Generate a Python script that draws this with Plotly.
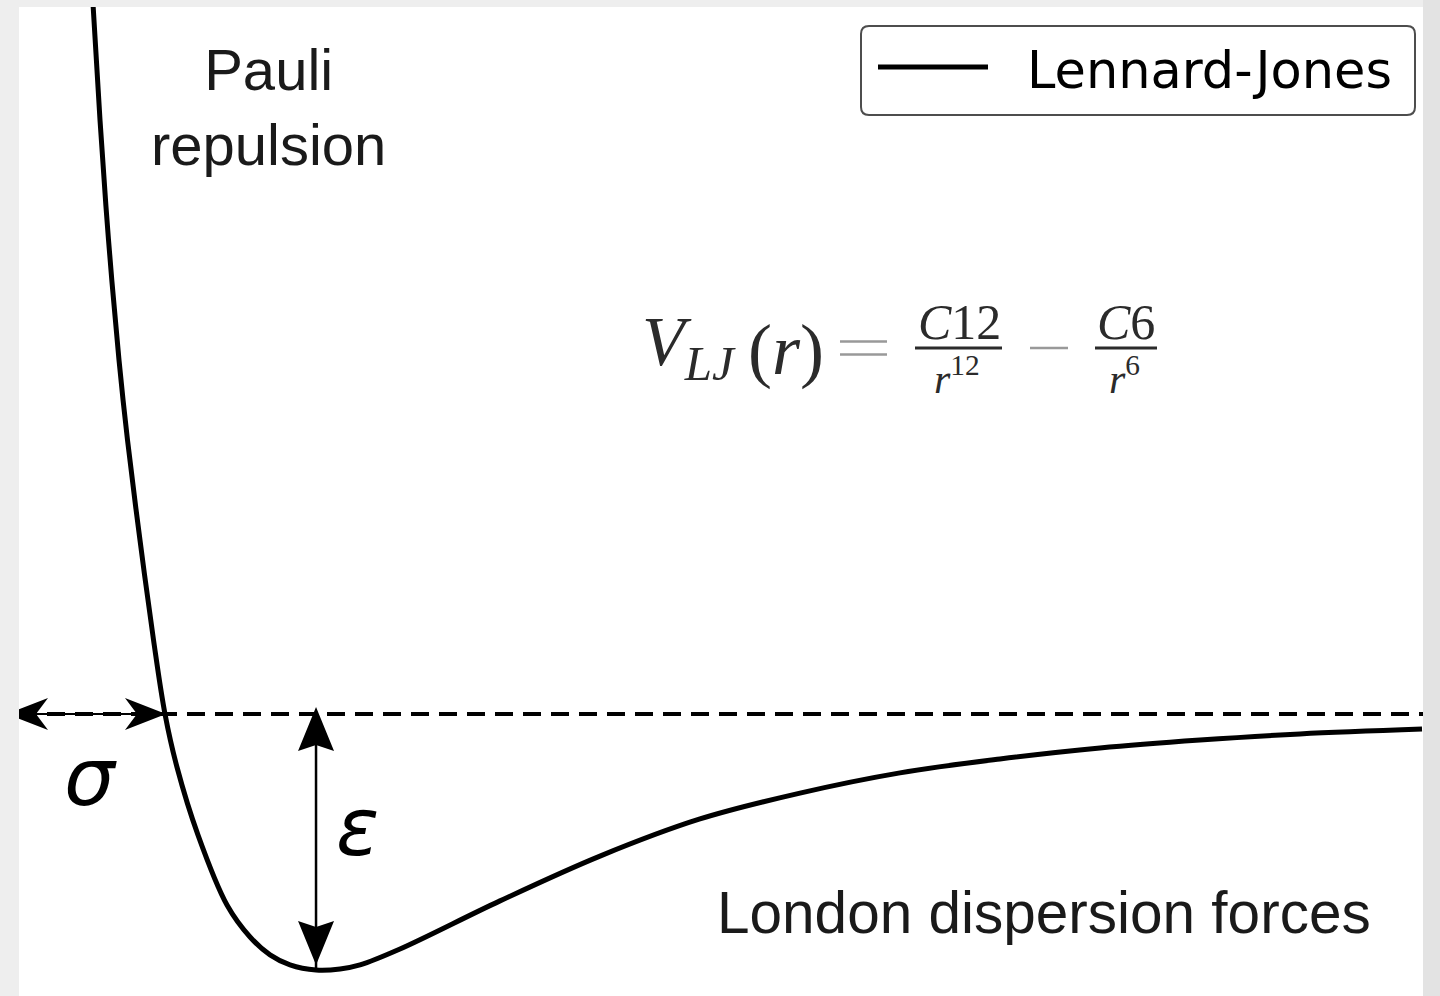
import plotly.graph_objects as go

# Lennard-Jones potential, reduced units: r / sigma on x, V / epsilon on y
r_over_sigma = [0.9416, 0.9473, 0.9542, 0.9627, 0.9696, 0.9797, 0.9907, 1.0000,
                1.0097, 1.0268, 1.0503, 1.0690, 1.0852, 1.1014, 1.1225, 1.1420,
                1.1582, 1.1906, 1.2717, 1.3528, 1.4339, 1.5150, 1.5961, 1.6772,
                1.7583, 1.8394, 1.9205, 2.0195]
v_over_eps = [2.775, 2.320, 1.852, 1.383, 1.070, 0.680, 0.289, 0.000,
              -0.207, -0.473, -0.746, -0.871, -0.941, -0.980, -1.000, -0.996,
              -0.980, -0.918, -0.730, -0.555, -0.410, -0.309, -0.230, -0.176,
              -0.133, -0.102, -0.078, -0.059]

series_name = "Lennard-Jones"
region_labels = ["Pauli<br>repulsion", "London dispersion forces"]

X_RANGE = [0.8816, 2.0203]
Y_RANGE = [-1.1016, 2.7617]

# sigma: where the potential crosses zero; epsilon: depth of the well
i_zero = v_over_eps.index(0.0)
sigma_r = r_over_sigma[i_zero]
i_min = v_over_eps.index(min(v_over_eps))
r_min = r_over_sigma[i_min]
v_min = v_over_eps[i_min]

W, H = 1440, 996
ML, MR, MT, MB = 19, 17, 7, 0
PW, PH = W - ML - MR, H - MT - MB


def fx(px):
    return (px - ML) / PW


def fy(py):
    return (H - MB - py) / PH


fig = go.Figure()
fig.add_trace(go.Scatter(
    x=r_over_sigma, y=v_over_eps, name=series_name, mode="lines",
    line=dict(color="black", width=5, shape="spline", smoothing=1.0),
    showlegend=False, hoverinfo="skip",
))

shapes = []
# zero-energy reference line
shapes.append(dict(type="line", xref="paper", yref="y", x0=0, x1=1, y0=0, y1=0,
                   line=dict(color="black", width=4, dash="18px,10px"), layer="below"))
# sigma arrow shaft
shapes.append(dict(type="line", xref="x", yref="y", x0=X_RANGE[0], x1=sigma_r, y0=0, y1=0,
                   line=dict(color="black", width=2)))
# epsilon arrow shaft
shapes.append(dict(type="line", xref="x", yref="y", x0=r_min, x1=r_min, y0=0, y1=v_min,
                   line=dict(color="black", width=2.5)))


def head(xa, ya, path):
    return dict(type="path", xref="x", yref="y", xsizemode="pixel", ysizemode="pixel",
                xanchor=xa, yanchor=ya, path=path, fillcolor="black",
                line=dict(width=0))


shapes.append(head(sigma_r, 0, "M1,0L-40,16L-28,0L-40,-16Z"))
shapes.append(head(X_RANGE[0], 0, "M-12,0L29,16L17,0L29,-16Z"))
shapes.append(head(r_min, 0, "M0,7L18,-37L0,-31L-18,-37Z"))
shapes.append(head(r_min, v_min, "M0,5L18,49L0,43L-18,49Z"))

# formula: fraction bars, equals sign and minus sign
for x0, x1 in [(915, 1002), (1095, 1157)]:
    shapes.append(dict(type="line", xref="paper", yref="paper", x0=fx(x0), x1=fx(x1),
                       y0=fy(348), y1=fy(348), line=dict(color="#2b2b2b", width=3)))
for x0, x1, y in [(840, 887, 341.5), (840, 887, 354.5), (1030, 1068, 348)]:
    shapes.append(dict(type="line", xref="paper", yref="paper", x0=fx(x0), x1=fx(x1),
                       y0=fy(y), y1=fy(y), line=dict(color="#999999", width=2.5)))

# legend box (rounded) anchored at the top-right of the plot area
box = ("M-554,-19L-16,-19Q-8,-19 -8,-27L-8,-100Q-8,-108 -16,-108"
       "L-554,-108Q-562,-108 -562,-100L-562,-27Q-562,-19 -554,-19Z")
shapes.append(dict(type="path", xref="paper", yref="paper", xsizemode="pixel",
                   ysizemode="pixel", xanchor=1, yanchor=1, path=box,
                   fillcolor="white", line=dict(color="#4d4d4d", width=2)))
shapes.append(dict(type="line", xref="paper", yref="paper", xsizemode="pixel",
                   ysizemode="pixel", xanchor=1, yanchor=1, x0=-545, x1=-435,
                   y0=-60, y1=-60, line=dict(color="black", width=5)))

# darker strip on the right edge of the page
shapes.append(dict(type="rect", xref="paper", yref="paper", x0=1, x1=1 + MR / PW,
                   y0=-0.01, y1=1 + MT / PH, fillcolor="#e3e3e3", line=dict(width=0),
                   layer="below"))

sans = "Liberation Sans, Arial, sans-serif"
serif = "Liberation Serif, Times New Roman, serif"
ann = []
ann.append(dict(xref="paper", yref="paper", x=fx(268), y=fy(107), text=region_labels[0],
                showarrow=False, xanchor="center", yanchor="middle",
                font=dict(family=sans, size=58, color="#1a1a1a")))
ann.append(dict(xref="paper", yref="paper", x=fx(1044), y=fy(912), text=region_labels[1],
                showarrow=False, xanchor="center", yanchor="middle",
                font=dict(family=sans, size=58.5, color="#1a1a1a")))
ann.append(dict(xref="paper", yref="paper", x=fx(90), y=fy(777), text="<i>σ</i>",
                showarrow=False, xanchor="center", yanchor="middle",
                font=dict(family="DejaVu Sans", size=80, color="black")))
ann.append(dict(xref="paper", yref="paper", x=fx(357), y=fy(827), text="<i>ε</i>",
                showarrow=False, xanchor="center", yanchor="middle",
                font=dict(family="DejaVu Sans", size=80, color="black")))
# legend label
ann.append(dict(xref="paper", yref="paper", x=1, y=1, xshift=-398, yshift=-63,
                text=series_name, showarrow=False, xanchor="left", yanchor="middle",
                font=dict(family="DejaVu Sans", size=51, color="black")))

# V_LJ(r) = C12 / r^12 - C6 / r^6
fc = "#2b2b2b"
ann.append(dict(xref="paper", yref="paper", x=fx(640), y=fy(347),
                text="<i>V</i><sub><i>LJ</i></sub>", showarrow=False,
                xanchor="left", yanchor="middle", font=dict(family=serif, size=70, color=fc)))
ann.append(dict(xref="paper", yref="paper", x=fx(746), y=fy(350),
                text="(<i>r</i>)", showarrow=False,
                xanchor="left", yanchor="middle", font=dict(family=serif, size=72, color=fc)))
for cx, num, den in [(959, "<i>C</i>12", "<i>r</i><sup>12</sup>"),
                     (1126, "<i>C</i>6", "<i>r</i><sup>6</sup>")]:
    ann.append(dict(xref="paper", yref="paper", x=fx(cx), y=fy(322), text=num,
                    showarrow=False, xanchor="center", yanchor="middle",
                    font=dict(family=serif, size=50, color=fc)))
    ann.append(dict(xref="paper", yref="paper", x=fx(cx - 2), y=fy(376), text=den,
                    showarrow=False, xanchor="center", yanchor="middle",
                    font=dict(family=serif, size=42, color=fc)))

fig.update_layout(
    width=W, height=H,
    margin=dict(l=ML, r=MR, t=MT, b=MB, pad=0),
    paper_bgcolor="#eeeeee", plot_bgcolor="white",
    xaxis=dict(range=X_RANGE, visible=False, showgrid=False, zeroline=False, fixedrange=True),
    yaxis=dict(range=Y_RANGE, visible=False, showgrid=False, zeroline=False, fixedrange=True),
    shapes=shapes, annotations=ann, showlegend=False,
)

fig.write_html("out.html", config={"displayModeBar": False})
